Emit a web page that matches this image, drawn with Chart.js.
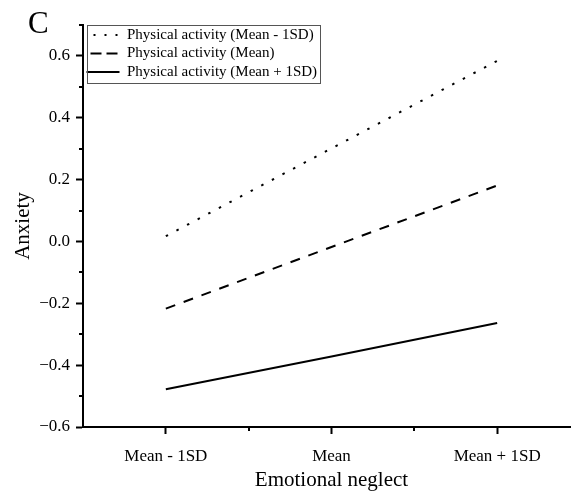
<!DOCTYPE html>
<html>
<head>
<meta charset="utf-8">
<script src="https://cdn.jsdelivr.net/npm/chart.js@4.4.1/dist/chart.umd.min.js"></script>
<style>
  html, body { margin: 0; padding: 0; background: #fff; overflow: hidden; }
  #wrap { width: 580px; height: 491px; }
</style>
</head>
<body>
<div id="wrap"><canvas id="chart" width="580" height="491"></canvas></div>
<script>
// data
const categories = ['Mean - 1SD', 'Mean', 'Mean + 1SD'];
const seriesNames = ['Physical activity (Mean - 1SD)', 'Physical activity (Mean)', 'Physical activity (Mean + 1SD)'];
const lowActivity = [0.017, 0.301, 0.584];
const meanActivity = [-0.217, -0.018, 0.181];
const highActivity = [-0.478, -0.372, -0.264];

const xTicks = [1, 1.5, 2, 2.5, 3];
const yTicks = [-0.6, -0.5, -0.4, -0.3, -0.2, -0.1, 0, 0.1, 0.2, 0.3, 0.4, 0.5, 0.6, 0.7];
const yTickLabels = ['\u22120.6', '', '\u22120.4', '', '\u22120.2', '', '0.0', '', '0.2', '', '0.4', '', '0.6', ''];

const plotDash = [[2.5, 9.5], [10, 9], []];
const legendDash = [[2, 9], [11, 5], []];
const legendDashOffset = [4, 12, 0];

const LEGEND_FONT = 15;
const LEGEND_PAD = 3.5;

Chart.defaults.font.family = '"Liberation Serif", "Times New Roman", serif';
Chart.defaults.color = '#000';

function toPoints(values) {
  return values.map((v, i) => ({ x: i + 1, y: v }));
}

const isMajorX = v => Number.isInteger(v);
const isMajorY = v => Math.round(v * 10) % 2 === 0;

// minor tick marks, panel letter and legend frame
const extras = {
  id: 'extras',
  afterLayout(chart) {
    // legend in the chart area gets top = 0, move it down onto the plot
    const lg = chart.legend;
    const dy = chart.chartArea.top - 1 - lg.top;
    lg.top += dy;
    lg.bottom += dy;
  },
  afterDraw(chart) {
    const ctx = chart.ctx;
    const xs = chart.scales.x, ys = chart.scales.y;
    ctx.save();
    ctx.strokeStyle = '#000';
    ctx.lineWidth = 2;
    ctx.beginPath();
    xTicks.filter(v => !isMajorX(v)).forEach(v => {
      const px = Math.round(xs.getPixelForValue(v));
      ctx.moveTo(px, xs.top);
      ctx.lineTo(px, xs.top + 4);
    });
    yTicks.filter(v => !isMajorY(v)).forEach(v => {
      const py = Math.round(ys.getPixelForValue(v));
      ctx.moveTo(ys.right, py);
      ctx.lineTo(ys.right - 4, py);
    });
    ctx.stroke();

    // legend frame
    const lg = chart.legend;
    const boxes = lg.legendHitBoxes || [];
    if (boxes.length) {
      const maxW = Math.max(...boxes.map(b => b.width));
      const left = chart.chartArea.left + 4;
      const top = chart.chartArea.top;
      const right = lg.left + LEGEND_PAD + maxW + 3;
      const bottom = lg.top + LEGEND_PAD + boxes.length * (LEGEND_FONT + LEGEND_PAD);
      ctx.lineWidth = 1;
      ctx.strokeStyle = '#555';
      ctx.strokeRect(left + 0.5, top + 0.5, Math.round(right - left), Math.round(bottom - top));
    }

    ctx.fillStyle = '#000';
    ctx.font = '31px "Liberation Serif", serif';
    ctx.textBaseline = 'alphabetic';
    ctx.fillText('C', 28, 33);
    ctx.restore();
  }
};

const datasets = [lowActivity, meanActivity, highActivity].map((vals, i) => ({
  label: seriesNames[i],
  data: toPoints(vals),
  borderColor: '#000',
  backgroundColor: 'rgba(0,0,0,0)',
  borderWidth: 2,
  borderDash: plotDash[i],
  pointRadius: 0,
  tension: 0
}));

new Chart(document.getElementById('chart'), {
  type: 'line',
  data: { datasets },
  options: {
    responsive: false,
    animation: false,
    layout: { padding: { top: 25, right: 0, bottom: 0, left: 0 } },
    plugins: {
      tooltip: { enabled: false },
      legend: {
        position: 'chartArea',
        align: 'start',
        labels: {
          usePointStyle: true,
          pointStyleWidth: 33,
          boxHeight: 4,
          padding: LEGEND_PAD,
          color: '#000',
          font: { size: LEGEND_FONT },
          generateLabels(chart) {
            const items = Chart.defaults.plugins.legend.labels.generateLabels(chart);
            items.forEach((it, i) => {
              it.pointStyle = 'line';
              it.lineDash = legendDash[i];
              it.lineDashOffset = legendDashOffset[i];
              it.lineWidth = 2;
              it.strokeStyle = '#000';
              it.fillStyle = 'rgba(0,0,0,0)';
            });
            return items;
          }
        }
      }
    },
    scales: {
      x: {
        type: 'linear',
        min: 0.5,
        max: 3.5,
        afterBuildTicks: s => { s.ticks = xTicks.map(v => ({ value: v })); },
        afterFit: s => { s.height = 64; },
        ticks: {
          autoSkip: false,
          maxRotation: 0,
          padding: 12,
          font: { size: 17 },
          callback: v => isMajorX(v) ? categories[v - 1] : ''
        },
        grid: {
          drawOnChartArea: false,
          drawTicks: true,
          tickLength: 7,
          tickWidth: 2,
          tickColor: c => isMajorX(c.tick.value) ? '#000' : 'rgba(0,0,0,0)'
        },
        border: { display: true, color: '#000', width: 2 },
        title: {
          display: true,
          text: 'Emotional neglect',
          font: { size: 21, lineHeight: 1 },
          padding: { top: 0, bottom: 0 }
        }
      },
      y: {
        min: -0.6,
        max: 0.7,
        afterBuildTicks: s => { s.ticks = yTicks.map(v => ({ value: v })); },
        afterFit: s => { s.width = 83; },
        ticks: {
          autoSkip: false,
          padding: 6,
          font: { size: 17 },
          callback: (v, i) => yTickLabels[i]
        },
        grid: {
          drawOnChartArea: false,
          drawTicks: true,
          tickLength: 7,
          tickWidth: 2,
          tickColor: c => isMajorY(c.tick.value) ? '#000' : 'rgba(0,0,0,0)'
        },
        border: { display: true, color: '#000', width: 2 },
        title: {
          display: true,
          text: 'Anxiety',
          font: { size: 21, lineHeight: 1.2 },
          padding: { top: 11, bottom: 0 }
        }
      }
    }
  },
  plugins: [extras]
});
</script>
</body>
</html>
